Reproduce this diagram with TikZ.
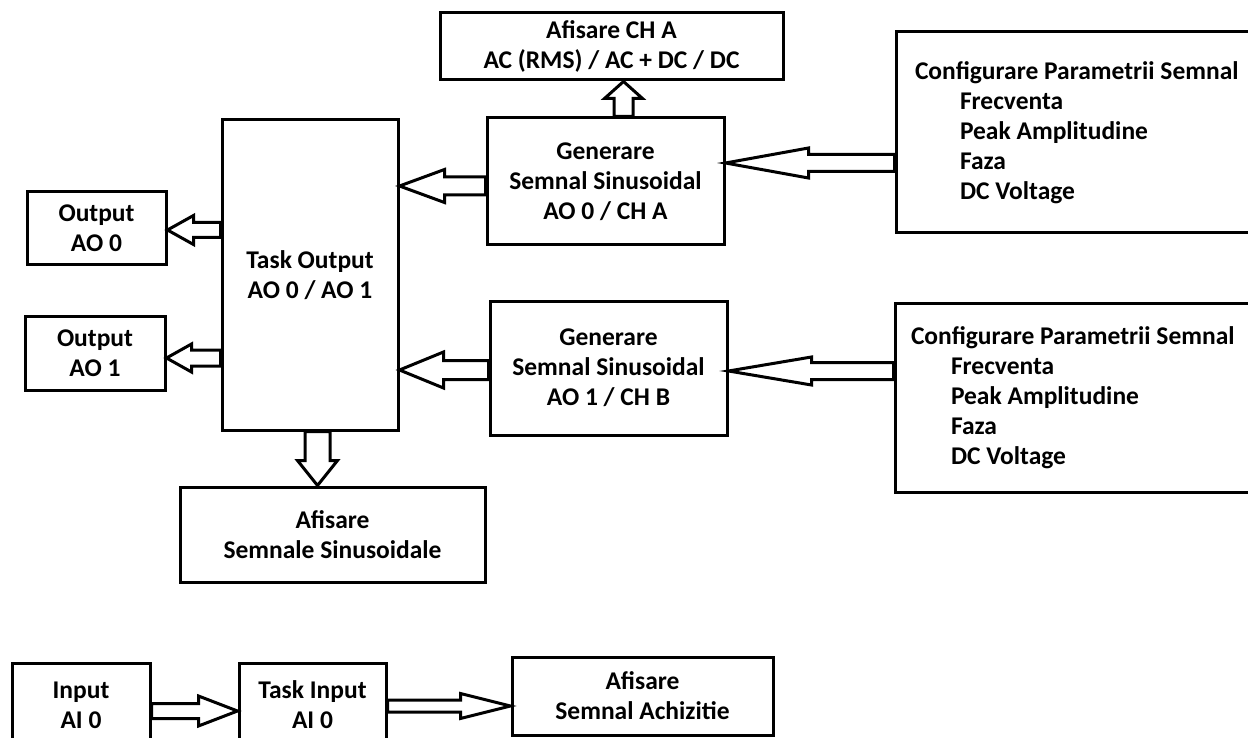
\documentclass[tikz,border=0pt]{standalone}
\usepackage{fontspec}
\setmainfont{Carlito}
\usetikzlibrary{calc}

% hollow block arrow: start, end, shaft half width, head half width, head length
\newcommand{\blockarrow}[5]{%
  \path (#1) coordinate (bs) (#2) coordinate (bt);
  \path ($(bt)!#5!(bs)$) coordinate (bh);
  \draw[blockarr] ($(bs)!#3!90:(bt)$) -- ($(bh)!#3!-90:(bs)$) -- ($(bh)!#4!-90:(bs)$)
    -- (bt) -- ($(bh)!#4!90:(bs)$) -- ($(bh)!#3!90:(bs)$) -- ($(bs)!#3!-90:(bt)$) -- cycle;}

\begin{document}
\begin{tikzpicture}[x=1pt, y=-1pt, font=\fontsize{25.5}{30}\selectfont\bfseries,
  every node/.style={align=center}]
\tikzset{
  blockbox/.style={draw, line width=3pt, inner sep=0pt},
  cfgbox/.style={draw, line width=3pt, inner sep=0pt, align=flush left},
  blockarr/.style={draw, fill=white, line width=3pt, line join=miter}
}
\useasboundingbox (0,0) rectangle (1248,738);

  % output side
  \node[blockbox, minimum width=343pt, minimum height=67pt] (chA) at (611.5,46.5) {Afisare CH A\\AC (RMS) / AC + DC / DC};
  \node[blockbox, minimum width=237pt, minimum height=127pt] (genA) at (605.5,181.5) {Generare\\Semnal Sinusoidal\\AO 0 / CH A};
  \node[blockbox, minimum width=237pt, minimum height=134pt] (genB) at (608.5,368) {Generare\\Semnal Sinusoidal\\AO 1 / CH B};
  \node[blockbox, minimum width=176pt, minimum height=310pt] (taskout) at (310,275) {Task Output\\AO 0 / AO 1};
  \node[blockbox, minimum width=139pt, minimum height=73pt] (out0) at (96.5,228.5) {Output\\AO 0};
  \node[blockbox, minimum width=140pt, minimum height=74pt] (out1) at (95,353) {Output\\AO 1};
  \node[blockbox, minimum width=305pt, minimum height=95pt] (afsin) at (332.5,534.5) {Afisare\\Semnale Sinusoidale};
  \node[cfgbox, text width=318pt, minimum width=356pt, minimum height=201pt] (cfgA) at (1074,132.5) {\mbox{Configurare Parametrii Semnal}\\
    \hspace*{45pt}Frecventa\\\hspace*{45pt}Peak Amplitudine\\\hspace*{45pt}Faza\\\hspace*{45pt}DC Voltage};
  \node[cfgbox, text width=324pt, minimum width=356pt, minimum height=189pt] (cfgB) at (1073,397.5) {\mbox{Configurare Parametrii Semnal}\\
    \hspace*{40pt}Frecventa\\\hspace*{40pt}Peak Amplitudine\\\hspace*{40pt}Faza\\\hspace*{40pt}DC Voltage};

  % input side
  \node[blockbox, minimum width=138pt, minimum height=84pt] (inp) at (81,705) {Input\\AI 0};
  \node[blockbox, minimum width=147pt, minimum height=84pt] (taskin) at (312.5,705) {Task Input\\AI 0};
  \node[blockbox, minimum width=261pt, minimum height=78pt] (afach) at (642.5,696) {Afisare\\Semnal Achizitie};

  \blockarrow{$(genA.north)+(18,0)$}{$(chA.south)+(12,0)$}{9.5pt}{19pt}{17pt}
  \blockarrow{$(genA.west)+(0,4.5)$}{$(genA.west -| taskout.east)+(0,4.5)$}{9pt}{16.5pt}{45pt}
  \blockarrow{$(cfgA.west)+(0,30.5)$}{$(cfgA.west -| genA.east)+(0,30.5)$}{8.5pt}{15pt}{83pt}
  \blockarrow{$(cfgB.west)+(0,-26.5)$}{$(cfgB.west -| genB.east)+(0,-26.5)$}{8.5pt}{14pt}{83pt}
  \blockarrow{$(genB.west)+(0,2)$}{$(genB.west -| taskout.east)+(0,2)$}{9.5pt}{18pt}{44pt}
  \blockarrow{$(out0.east -| taskout.west)+(0,1.5)$}{$(out0.east)+(0,1.5)$}{7.5pt}{14.5pt}{26pt}
  \blockarrow{$(out1.east -| taskout.west)+(0,5)$}{$(out1.east)+(0,5)$}{8pt}{14pt}{25pt}
  \blockarrow{$(taskout.south)+(7.5,0)$}{$(taskout.south |- afsin.north)+(7.5,0)$}{12.5pt}{20pt}{25pt}
  \blockarrow{$(inp.east)+(0,6)$}{$(inp.east -| taskin.west)+(0,6)$}{7.5pt}{15pt}{39pt}
  \blockarrow{$(taskin.east)+(0,1)$}{$(taskin.east -| afach.west)+(0,1)$}{6pt}{12.5pt}{50pt}
\end{tikzpicture}
\end{document}
